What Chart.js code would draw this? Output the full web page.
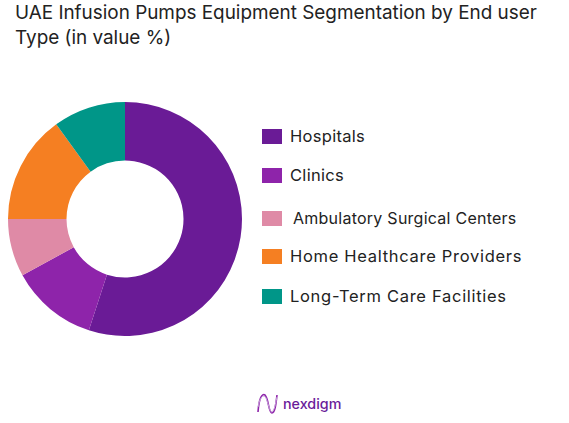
<!DOCTYPE html>
<html lang="en">
<head>
    <meta charset="UTF-8">
    <title>UAE Infusion Pumps Equipment Segmentation</title>
    <script src="https://cdn.jsdelivr.net/npm/chart.js"></script>
    <style>
        html, body {
            margin: 0;
            padding: 0;
            background: #fff;
        }
        body {
            position: relative;
            width: 569px;
            height: 423px;
            overflow: hidden;
            font-family: Inter, "Open Sans", sans-serif;
            color: #222;
        }
        #title {
            position: absolute;
            left: 15px;
            top: 1px;
            font-size: 18.9px;
            line-height: 24.5px;
            white-space: nowrap;
        }
        #chartBox {
            position: absolute;
            left: 8px;
            top: 102px;
            width: 234px;
            height: 234px;
        }
        #legend .item {
            position: absolute;
            left: 262px;
            height: 20px;
            line-height: 20px;
            font-size: 16.5px;
            letter-spacing: 0.7px;
            white-space: nowrap;
        }
        #legend .swatch {
            position: absolute;
            left: 0;
            top: 3px;
            width: 20px;
            height: 15px;
        }
        #legend .text {
            position: absolute;
            left: 28px;
            top: 0;
        }
        /* rows in the reference are not evenly spaced */
        #legend .item:nth-child(1) { top: 126px; letter-spacing: 0.3px; }
        #legend .item:nth-child(2) { top: 165px; letter-spacing: 0.3px; }
        #legend .item:nth-child(3) { top: 208px; font-size: 16px; letter-spacing: 0.25px; }
        #legend .item:nth-child(4) { top: 246px; }
        #legend .item:nth-child(5) { top: 286px; }
        #legend .item:nth-child(3) .text { left: 31px; }
        #logo {
            position: absolute;
            left: 256px;
            top: 392px;
        }
        #brand {
            position: absolute;
            left: 283px;
            top: 394px;
            font-size: 14.3px;
            line-height: 20px;
            font-weight: 500;
            color: #6a1b9a;
        }
    </style>
</head>
<body>
    <div id="title"></div>
    <div id="chartBox"><canvas id="donut"></canvas></div>
    <div id="legend"></div>
    <svg id="logo" width="23" height="24" viewBox="0 0 23 24" fill="none">
        <path d="M2 20 C3 6 6 1 9 3 C13 7 12 20 16 21 C19 21 20 12 21 3" stroke="#8e24aa" stroke-width="1.6"/>
        <path d="M2 15 C4 4 8 2 10 6 C13 13 14 23 17 19 C19 16 20 9 21 5" stroke="#c9a6dc" stroke-width="1"/>
    </svg>
    <div id="brand">nexdigm</div>

    <script>
        const titleLines = ['UAE Infusion Pumps Equipment Segmentation by End user', 'Type (in value %)'];
        const categories = ['Hospitals', 'Clinics', 'Ambulatory Surgical Centers', 'Home Healthcare Providers', 'Long-Term Care Facilities'];
        const shares = [55, 12, 8, 15, 10];
        const colors = ['#6a1b96', '#8e24aa', '#df8aa6', '#f57f22', '#009688'];

        document.getElementById('title').innerHTML = titleLines.join('<br>');

        new Chart(document.getElementById('donut'), {
            type: 'doughnut',
            data: {
                labels: categories,
                datasets: [{
                    data: shares,
                    backgroundColor: colors,
                    borderWidth: 0
                }]
            },
            options: {
                responsive: true,
                maintainAspectRatio: false,
                animation: false,
                cutout: '50%',
                layout: { padding: 0 },
                plugins: {
                    legend: { display: false },
                    tooltip: { enabled: false }
                }
            }
        });

        // Legend is built by hand because the rows sit at uneven heights
        const legend = document.getElementById('legend');
        categories.forEach((name, i) => {
            legend.innerHTML += `<div class="item"><span class="swatch" style="background:${colors[i]}"></span><span class="text">${name}</span></div>`;
        });
    </script>
</body>
</html>
